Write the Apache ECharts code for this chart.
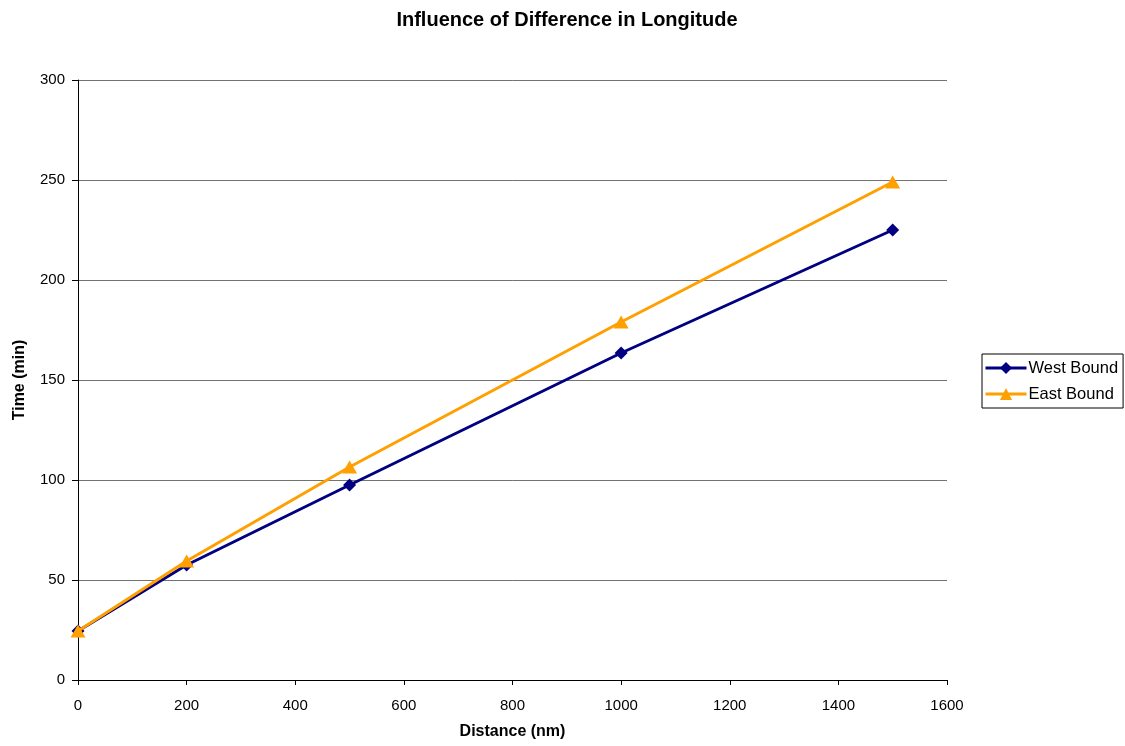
<!DOCTYPE html>
<html>
<head>
<meta charset="utf-8">
<script src="https://cdn.jsdelivr.net/npm/echarts@6/dist/echarts.min.js"></script>
<style>
  html, body { margin: 0; padding: 0; background: #fff; }
  #chart { width: 1125px; height: 746px; }
</style>
</head>
<body>
<div id="chart"></div>
<script>
// Distance (nm) on x, time (min) on y
const distances = [0, 200, 500, 1000, 1500];
const westBound = [24.5, 57.5, 97.5, 163.5, 225];
const eastBound = [24.5, 59.5, 106.5, 179, 249];
const seriesNames = ['West Bound', 'East Bound'];

const font = '"Liberation Sans", Arial, sans-serif';

function pairs(xs, ys) {
  return xs.map((x, i) => [x, ys[i]]);
}

const chart = echarts.init(document.getElementById('chart'), null, { renderer: 'canvas' });
chart.setOption({
  animation: false,
  backgroundColor: '#ffffff',
  title: {
    text: 'Influence of Difference in Longitude',
    left: 562, top: 5, textAlign: 'center',
    textStyle: { fontFamily: font, fontSize: 20, fontWeight: 'bold', color: '#000' }
  },
  grid: { left: 78, right: 178, top: 80, bottom: 66, containLabel: false },
  legend: {
    orient: 'vertical',
    left: 982, top: 354,
    itemWidth: 41, itemHeight: 15, itemGap: 6,
    padding: [4, 5, 4, 2],
    borderColor: '#000', borderWidth: 1,
    lineStyle: { width: 3 },
    textStyle: { fontFamily: font, fontSize: 16.5, lineHeight: 20, color: '#000', padding: [0, 0, 0, -3] },
    data: seriesNames
  },
  xAxis: {
    type: 'value', min: 0, max: 1600, interval: 200,
    name: 'Distance (nm)', nameLocation: 'middle', nameGap: 44,
    nameTextStyle: { fontFamily: font, fontSize: 16, fontWeight: 'bold', color: '#000' },
    axisLine: { show: true, onZero: false, lineStyle: { color: '#000', width: 1 } },
    axisTick: { show: true, inside: false, length: 5, lineStyle: { color: '#000' } },
    axisLabel: {
      fontFamily: font, fontSize: 15, color: '#000', margin: 18,
      formatter: v => String(v)
    },
    splitLine: { show: false }
  },
  yAxis: {
    type: 'value', min: 0, max: 300, interval: 50,
    name: 'Time (min)', nameLocation: 'middle', nameGap: 50, nameRotate: 90,
    nameTextStyle: { fontFamily: font, fontSize: 16, fontWeight: 'bold', color: '#000' },
    axisLine: { show: true, lineStyle: { color: '#000', width: 1 } },
    axisTick: { show: true, inside: false, length: 6, lineStyle: { color: '#000' } },
    axisLabel: { fontFamily: font, fontSize: 15, color: '#000', margin: 13 },
    splitLine: { show: true, lineStyle: { color: '#000', width: 1, opacity: 0.55 } }
  },
  series: [
    {
      name: seriesNames[0], type: 'line',
      data: pairs(distances, westBound),
      symbol: 'diamond', symbolSize: 13,
      lineStyle: { color: '#000080', width: 3 },
      itemStyle: { color: '#000080' },
      z: 2
    },
    {
      name: seriesNames[1], type: 'line',
      data: pairs(distances, eastBound),
      symbol: 'triangle', symbolSize: [15, 13],
      lineStyle: { color: '#FF9F00', width: 3 },
      itemStyle: { color: '#FF9F00' },
      z: 3
    }
  ]
});
</script>
</body>
</html>
